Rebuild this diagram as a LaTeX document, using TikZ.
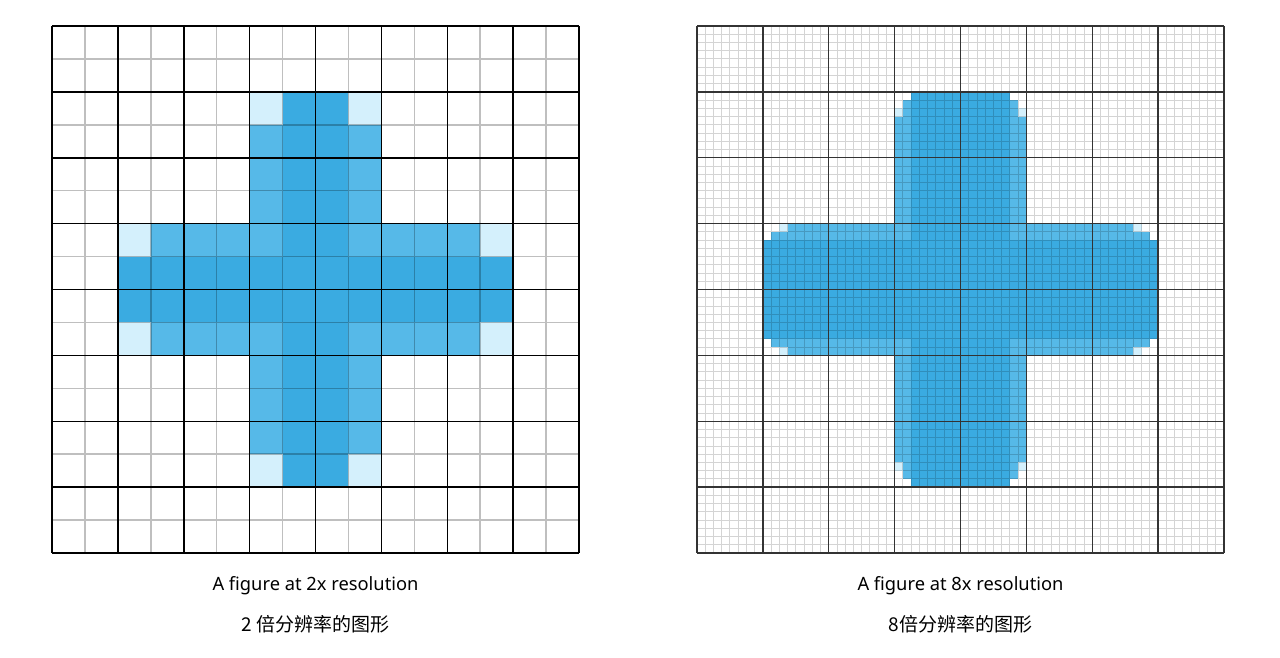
\documentclass[tikz,border=0pt]{standalone}
\usepackage{fontspec}
\setmainfont{Noto Sans}
\newfontfamily\cjk{Noto Sans CJK SC}
\definecolor{bdark}{RGB}{58,171,225}
\definecolor{bmed}{RGB}{86,185,232}
\definecolor{blight}{RGB}{212,240,252}
\newcommand\fillcells[5]{\fill[#1] (#2,#3) rectangle ({#4+1},{#5+1});}
\tikzset{
  lminor/.style={draw=black,draw opacity=0.25,line width=1.5pt},
  lmajor/.style={draw=black,line width=1.5pt,line cap=square},
  rminor/.style={draw=black,draw opacity=0.17,line width=0.9pt},
  rmajor/.style={draw=black!80,line width=1.3pt,line cap=square},
  caption/.style={font=\fontsize{18.3}{21}\selectfont,anchor=center,inner sep=0pt},
  ccaption/.style={font=\cjk\fontsize{19}{21}\selectfont,anchor=center,inner sep=0pt}
}
\begin{document}
\begin{tikzpicture}[x=1pt,y=-1pt]
\fill[white] (0,0) rectangle (1280,657);
\useasboundingbox (0,0) rectangle (1280,657);
% ---------- left figure (2x) ----------
\begin{scope}[shift={(52,26)},x=32.9375pt,y=-32.9375pt]
\fillcells{bmed}{6}{3}{6}{12}
\fillcells{bmed}{9}{3}{9}{12}
\fillcells{bmed}{3}{6}{12}{6}
\fillcells{bmed}{3}{9}{12}{9}
\fillcells{bdark}{7}{2}{8}{13}
\fillcells{bdark}{2}{7}{13}{8}
\foreach \c/\r in {6/2,9/2,6/13,9/13,2/6,13/6,2/9,13/9}{\fillcells{blight}{\c}{\r}{\c}{\r}}
\draw[lminor] \foreach \i in {0,...,16}{(\i,0)--(\i,16) (0,\i)--(16,\i)};
\draw[lmajor] \foreach \i in {0,2,...,16}{(\i,0)--(\i,16) (0,\i)--(16,\i)};
\end{scope}
% ---------- right figure (8x) ----------
\begin{scope}[shift={(697,26)},x=8.234375pt,y=-8.234375pt]
% vertical bar medium edges
\fillcells{bmed}{24}{11}{25}{52}
\fillcells{bmed}{25}{9}{25}{10}
\fillcells{bmed}{25}{53}{25}{54}
\fillcells{bmed}{38}{11}{39}{52}
\fillcells{bmed}{38}{9}{38}{10}
\fillcells{bmed}{38}{53}{38}{54}
% horizontal bar medium edges
\fillcells{bmed}{11}{24}{52}{25}
\fillcells{bmed}{9}{25}{10}{25}
\fillcells{bmed}{53}{25}{54}{25}
\fillcells{bmed}{11}{38}{52}{39}
\fillcells{bmed}{9}{38}{10}{38}
\fillcells{bmed}{53}{38}{54}{38}
% dark cores
\fillcells{bdark}{26}{8}{37}{55}
\fillcells{bdark}{8}{26}{55}{37}
% light corner cells
\foreach \c/\r in {24/10,39/10,24/53,39/53,10/24,10/39,53/24,53/39}{\fillcells{blight}{\c}{\r}{\c}{\r}}
\draw[rminor] \foreach \i in {0,...,64}{(\i,0)--(\i,64) (0,\i)--(64,\i)};
\draw[rmajor] \foreach \i in {0,8,...,64}{(\i,0)--(\i,64) (0,\i)--(64,\i)};
\end{scope}
% ---------- captions ----------
\node[caption] (capL) at (315.5,586) {A figure at 2x resolution};
\node[ccaption] (cjkL) at (315.5,624) {2 倍分辨率的图形};
\node[caption] (capR) at (960.5,586) {A figure at 8x resolution};
\node[ccaption] (cjkR) at (960.5,624) {8倍分辨率的图形};
\end{tikzpicture}
\end{document}
